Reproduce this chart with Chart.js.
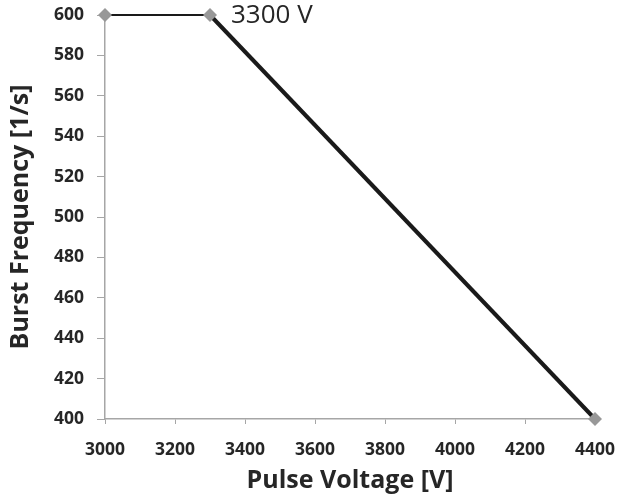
<!DOCTYPE html>
<html>
<head>
<meta charset="utf-8">
<script src="https://cdn.jsdelivr.net/npm/chart.js@4"></script>
<style>
  html, body { margin: 0; padding: 0; background: #fff; }
  #wrap { width: 617px; height: 504px; }
</style>
</head>
<body>
<div id="wrap"><canvas id="burst-chart" width="617" height="504"></canvas></div>
<script>
const voltages = [3000, 3300, 4400];
const frequencies = [600, 600, 400];
const xTicks = [3000, 3200, 3400, 3600, 3800, 4000, 4200, 4400];
const yTicks = [400, 420, 440, 460, 480, 500, 520, 540, 560, 580, 600];
const pointLabel = "3300 V";
const pointLabelIndex = 1;

const axisGray = "#a6a6a6";
const textDark = "#262626";

// writes the voltage next to the knee of the curve
const kneeLabel = {
  id: "kneeLabel",
  afterDatasetsDraw(chart) {
    const { ctx, scales } = chart;
    const x = scales.x.getPixelForValue(voltages[pointLabelIndex]);
    const y = scales.y.getPixelForValue(frequencies[pointLabelIndex]);
    ctx.save();
    ctx.font = "26px 'Open Sans'";
    ctx.fillStyle = textDark;
    ctx.textAlign = "left";
    ctx.textBaseline = "middle";
    ctx.fillText(pointLabel, x + 21, y + 1);
    ctx.restore();
  },
};

new Chart(document.getElementById("burst-chart"), {
  type: "line",
  data: {
    datasets: [
      {
        data: voltages.map((v, i) => ({ x: v, y: frequencies[i] })),
        borderColor: "#1a1a1a",
        borderWidth: 4,
        segment: {
          borderWidth: (ctx) => (ctx.p0DataIndex === 0 ? 2 : 4),
        },
        pointStyle: "rectRot",
        pointRadius: 7,
        pointBackgroundColor: "#989898",
        pointBorderColor: "#989898",
        pointBorderWidth: 0,
        tension: 0,
        clip: false,
      },
    ],
  },
  options: {
    responsive: false,
    animation: false,
    layout: { padding: { top: 15, right: 22, left: 0, bottom: 0 } },
    plugins: { legend: { display: false }, tooltip: { enabled: false } },
    scales: {
      x: {
        type: "linear",
        min: 3000,
        max: 4400,
        afterBuildTicks: (axis) => {
          axis.ticks = xTicks.map((v) => ({ value: v }));
        },
        afterFit: (axis) => {
          axis.height = 85;
          axis.paddingLeft = 0;
          axis.paddingRight = 0;
        },
        grid: { drawOnChartArea: false, color: axisGray, tickLength: 5 },
        border: { color: axisGray, width: 1.5 },
        ticks: {
          color: textDark,
          font: { family: "'Open Sans'", size: 17.5, weight: "bold" },
          padding: 16,
          maxRotation: 0,
          callback: (v) => String(v),
        },
        title: {
          display: true,
          text: "Pulse Voltage [V]",
          color: textDark,
          font: { family: "'Open Sans'", size: 25, weight: "bold" },
          padding: { top: 8, bottom: 8 },
        },
      },
      y: {
        min: 400,
        max: 600,
        afterBuildTicks: (axis) => {
          axis.ticks = yTicks.map((v) => ({ value: v }));
        },
        afterFit: (axis) => {
          axis.width = 105;
          axis.paddingTop = 0;
          axis.paddingBottom = 0;
        },
        grid: { drawOnChartArea: false, color: axisGray, tickLength: 8 },
        border: { color: axisGray, width: 1.5 },
        ticks: {
          color: textDark,
          font: { family: "'Open Sans'", size: 17.5, weight: "bold" },
          padding: 13,
        },
        title: {
          display: true,
          text: "Burst Frequency [1/s]",
          color: textDark,
          font: { family: "'Open Sans'", size: 25, weight: "bold" },
          padding: { top: 6, bottom: 4 },
        },
      },
    },
  },
  plugins: [kneeLabel],
});
</script>
</body>
</html>
